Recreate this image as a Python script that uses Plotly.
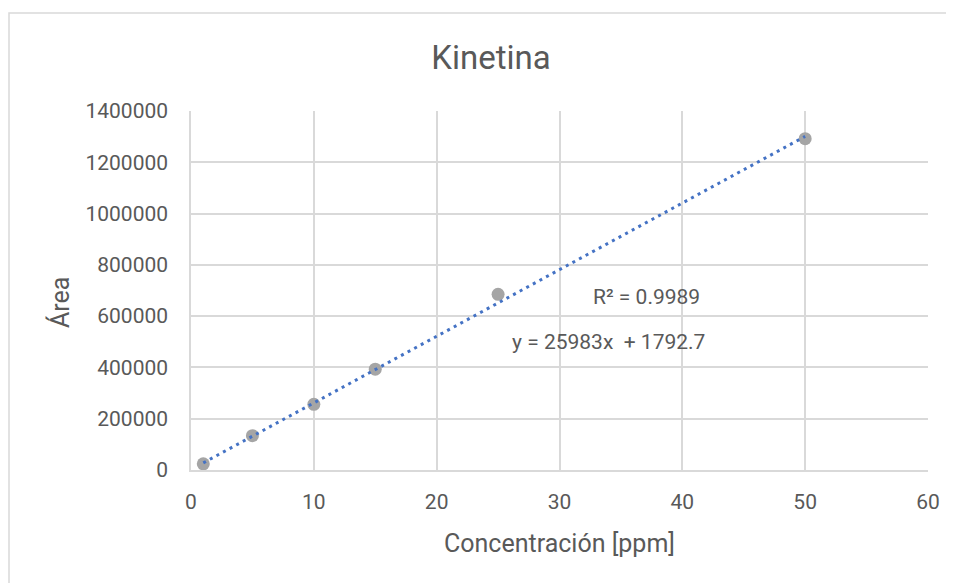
import plotly.graph_objects as go

# Data
conc = [1, 5, 10, 15, 25, 50]
area = [24000, 134000, 256000, 393000, 685000, 1292000]
slope = [25983]
intercept = [1792.7]
r2 = [0.9989]
x_ticks = [0, 10, 20, 30, 40, 50, 60]
y_ticks = [0, 200000, 400000, 600000, 800000, 1000000, 1200000, 1400000]

FONT = "Roboto"
TXT = "#595959"
GRID = "#d9d9d9"

xmin, xmax = min(conc), max(conc)
trend_x = [xmin, xmax]
trend_y = [slope[0] * v + intercept[0] for v in trend_x]

fig = go.Figure()
fig.add_trace(go.Scatter(
    x=conc, y=area, mode="markers",
    marker=dict(color="#a5a5a5", size=13, line=dict(width=0)),
    showlegend=False, hoverinfo="x+y"))
fig.add_trace(go.Scatter(
    x=trend_x, y=trend_y, mode="lines",
    line=dict(color="#4472C4", width=3, dash="3px,4.5px"),
    showlegend=False, hoverinfo="skip"))

OFF = 8  # page body margin
W, H = 954 - OFF, 583 - OFF
L, T = 191 - OFF, 111 - OFF
R = W - (928 - OFF)
B = H - (470 - OFF)
PW, PH = W - L - R, H - T - B


def px(xp):
    return (xp - OFF - L) / PW


def py(yp):
    return (H - B - (yp - OFF)) / PH


fig.update_layout(
    width=W, height=H,
    margin=dict(l=L, r=R, t=T, b=B, pad=0),
    paper_bgcolor="white", plot_bgcolor="white",
    font=dict(family=FONT, color=TXT, size=21),
    title=dict(text="Kinetina", font=dict(family=FONT, size=33, color=TXT),
               x=(491 - OFF) / W, xanchor="center", xref="container",
               y=1 - (57 - OFF) / H, yanchor="middle", yref="container"),
    xaxis=dict(range=[0, 60], tickvals=x_ticks, tickformat="d",
               showgrid=True, gridcolor=GRID, gridwidth=1.5,
               zeroline=False, showline=True, linecolor=GRID, linewidth=1.5,
               mirror=False, ticks="", ticklabelstandoff=12,
               tickfont=dict(family=FONT, size=21, color=TXT)),
    yaxis=dict(range=[0, 1400000], tickvals=y_ticks, tickformat="d",
               showgrid=True, gridcolor=GRID, gridwidth=1.5,
               zeroline=False, showline=True, linecolor=GRID, linewidth=1.5,
               ticks="", ticklabelstandoff=17,
               tickfont=dict(family=FONT, size=21, color=TXT)),
    shapes=[dict(type="rect", xref="paper", yref="paper",
                 x0=px(9), x1=1.2,
                 y0=-0.5, y1=py(13),
                 line=dict(color=GRID, width=1.5), fillcolor="rgba(0,0,0,0)",
                 layer="below")],
    annotations=[
        dict(text="Concentración [ppm]", xref="paper", yref="paper",
             x=px(559.5), y=py(543),
             xanchor="center", yanchor="middle", showarrow=False,
             font=dict(family=FONT, size=25, color=TXT)),
        dict(text="Área", xref="paper", yref="paper",
             x=px(60), y=py(303),
             xanchor="center", yanchor="middle", textangle=-90, showarrow=False,
             font=dict(family=FONT, size=25, color=TXT)),
        dict(text=f"R² = {r2[0]}", x=37.1, y=675000,
             xanchor="center", yanchor="middle", showarrow=False,
             font=dict(family=FONT, size=21, color=TXT)),
        dict(text=f"y = {slope[0]}x  + {intercept[0]}", x=34.0, y=499000,
             xanchor="center", yanchor="middle", showarrow=False,
             font=dict(family=FONT, size=21, color=TXT)),
    ],
)

fig.write_html("out.html")
